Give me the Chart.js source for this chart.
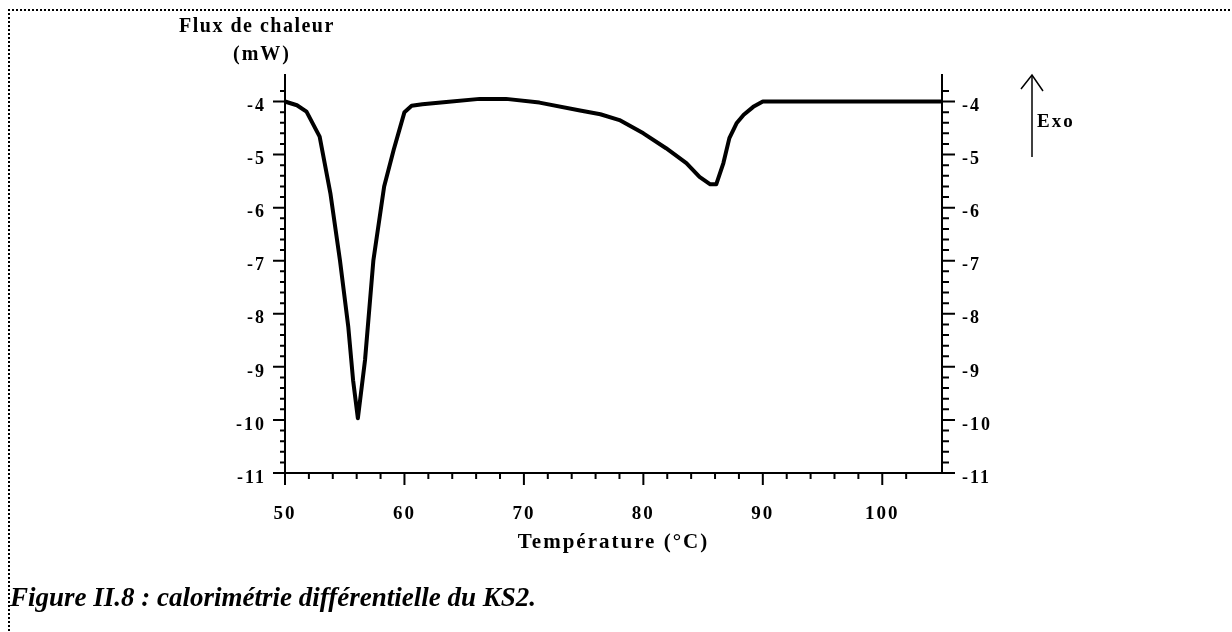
<!DOCTYPE html>
<html>
<head>
<meta charset="utf-8">
<script src="https://cdn.jsdelivr.net/npm/chart.js@4/dist/chart.umd.min.js"></script>
<style>
html,body{margin:0;padding:0;background:#fff;}
#wrap{position:relative;width:1232px;height:632px;overflow:hidden;background:#fff;}
#frame{position:absolute;left:8px;top:9px;width:1300px;height:700px;border-top:2px dotted #000;border-left:2px dotted #000;}
canvas{position:absolute;left:0;top:0;}
.t{position:absolute;font-family:"Liberation Serif","Times New Roman",serif;font-weight:bold;color:#000;white-space:nowrap;line-height:1;}
svg{position:absolute;left:0;top:0;}
</style>
</head>
<body>
<div id="wrap">
  <div id="frame"></div>
  <canvas id="c" width="1232" height="632"></canvas>
  <div class="t" style="left:179px;top:15px;font-size:20px;letter-spacing:1.5px;">Flux de chaleur</div>
  <div class="t" style="left:233px;top:43px;font-size:20px;letter-spacing:2px;">(mW)</div>
  <svg width="1232" height="632">
    <line x1="1032" y1="75" x2="1032" y2="157" stroke="#000" stroke-width="1.5"/>
    <polyline points="1021,89 1032,75 1043,91" fill="none" stroke="#000" stroke-width="1.5"/>
  </svg>
  <div class="t" style="left:1037px;top:111px;font-size:19px;letter-spacing:2px;">Exo</div>
  <div class="t" style="left:10px;top:584px;font-size:27px;font-style:italic;">Figure II.8 : calorimétrie différentielle du KS2.</div>
</div>
<script>
// ---- data ----
const temperature = [50, 51, 51.8, 52.9, 53.8, 54.6, 55.3, 55.7, 56.1, 56.7, 57.4, 58.3, 59.1, 60.0, 60.6, 61.5, 63.5, 66.3, 68.5, 71.3, 74.7, 76.4, 78.0, 80.0, 81.9, 83.6, 84.7, 85.6, 86.1, 86.7, 87.2, 87.8, 88.4, 89.2, 90.0, 105];
const heatFlux    = [-4.0, -4.07, -4.19, -4.66, -5.73, -6.99, -8.25, -9.25, -9.97, -8.87, -6.99, -5.6, -4.91, -4.2, -4.08, -4.05, -4.01, -3.95, -3.95, -4.02, -4.17, -4.24, -4.35, -4.60, -4.88, -5.16, -5.42, -5.56, -5.56, -5.16, -4.69, -4.41, -4.25, -4.1, -4.0, -4.0];
const xTickLabels = [50, 60, 70, 80, 90, 100];
const yTickLabels = [-4, -5, -6, -7, -8, -9, -10, -11];
const xTitle = 'Température (°C)';

const FONT = '"Liberation Serif", "Times New Roman", serif';
const near = (a, b) => Math.abs(a - b) < 1e-6;

const tickMarks = {
  id: 'tickMarks',
  beforeUpdate(chart) { chart.ctx.letterSpacing = '2px'; },
  beforeDraw(chart) { chart.ctx.letterSpacing = '2px'; },
  afterDraw(chart) {
    const ctx = chart.ctx;
    ctx.save();
    ctx.strokeStyle = '#000';
    ctx.lineWidth = 2;
    ctx.beginPath();
    const x = chart.scales.x;
    x.ticks.forEach(t => {
      if (!near(t.value / 2, Math.round(t.value / 2))) return;
      const px = x.getPixelForValue(t.value);
      const len = near(t.value % 10, 0) ? 12 : 6;
      ctx.moveTo(px, x.top);
      ctx.lineTo(px, x.top + len);
    });
    ['y', 'y2'].forEach(id => {
      const s = chart.scales[id];
      s.ticks.forEach(t => {
        const v = t.value;
        if (!near(v * 5, Math.round(v * 5))) return;
        const py = s.getPixelForValue(v);
        const major = near(v, Math.round(v));
        if (id === 'y') {
          const len = major ? 12 : 5;
          ctx.moveTo(s.right, py);
          ctx.lineTo(s.right - len, py);
        } else {
          const len = major ? 13 : 7;
          ctx.moveTo(s.left, py);
          ctx.lineTo(s.left + len, py);
        }
      });
    });
    ctx.stroke();
    ctx.restore();
  }
};

const yTickCb = v => (yTickLabels.some(l => near(l, v)) ? String(Math.round(v)) : '');

new Chart(document.getElementById('c'), {
  type: 'line',
  data: {
    datasets: [{
      data: temperature.map((t, i) => ({x: t, y: heatFlux[i]})),
      borderColor: '#000',
      borderWidth: 4,
      pointRadius: 0,
      tension: 0,
      borderJoinStyle: 'round',
      borderCapStyle: 'round',
      yAxisID: 'y'
    }]
  },
  options: {
    responsive: false,
    animation: false,
    devicePixelRatio: 1,
    layout: {padding: {top: 75, left: 0, right: 0, bottom: 0}},
    plugins: {legend: {display: false}, tooltip: {enabled: false}},
    scales: {
      x: {
        type: 'linear', position: 'bottom', min: 50, max: 105,
        grid: {display: false, drawTicks: false},
        border: {display: true, color: '#000', width: 2},
        ticks: {
          stepSize: 2, autoSkip: false, maxRotation: 0, padding: 30,
          color: '#000', font: {family: FONT, size: 19, weight: 'bold'},
          callback: v => (xTickLabels.some(l => near(l, v)) ? String(v) : '')
        },
        title: {display: true, text: xTitle, color: '#000',
          font: {family: FONT, size: 21, weight: 'bold'}, padding: {top: 0, bottom: 77}},
        afterFit: s => { s.height = 159; }
      },
      y: {
        type: 'linear', position: 'left', min: -11, max: -3.5,
        grid: {display: false, drawTicks: false},
        border: {display: true, color: '#000', width: 2},
        ticks: {stepSize: 0.2, autoSkip: false, padding: 19, labelOffset: 5,
          color: '#000', font: {family: FONT, size: 18, weight: 'bold'}, callback: yTickCb},
        afterFit: s => { s.width = 285; }
      },
      y2: {
        type: 'linear', position: 'right', min: -11, max: -3.5,
        grid: {display: false, drawTicks: false},
        border: {display: true, color: '#000', width: 2},
        ticks: {stepSize: 0.2, autoSkip: false, padding: 20, labelOffset: 5,
          color: '#000', font: {family: FONT, size: 18, weight: 'bold'}, callback: yTickCb},
        afterFit: s => { s.width = 290; }
      }
    }
  },
  plugins: [tickMarks]
});
</script>
</body>
</html>
